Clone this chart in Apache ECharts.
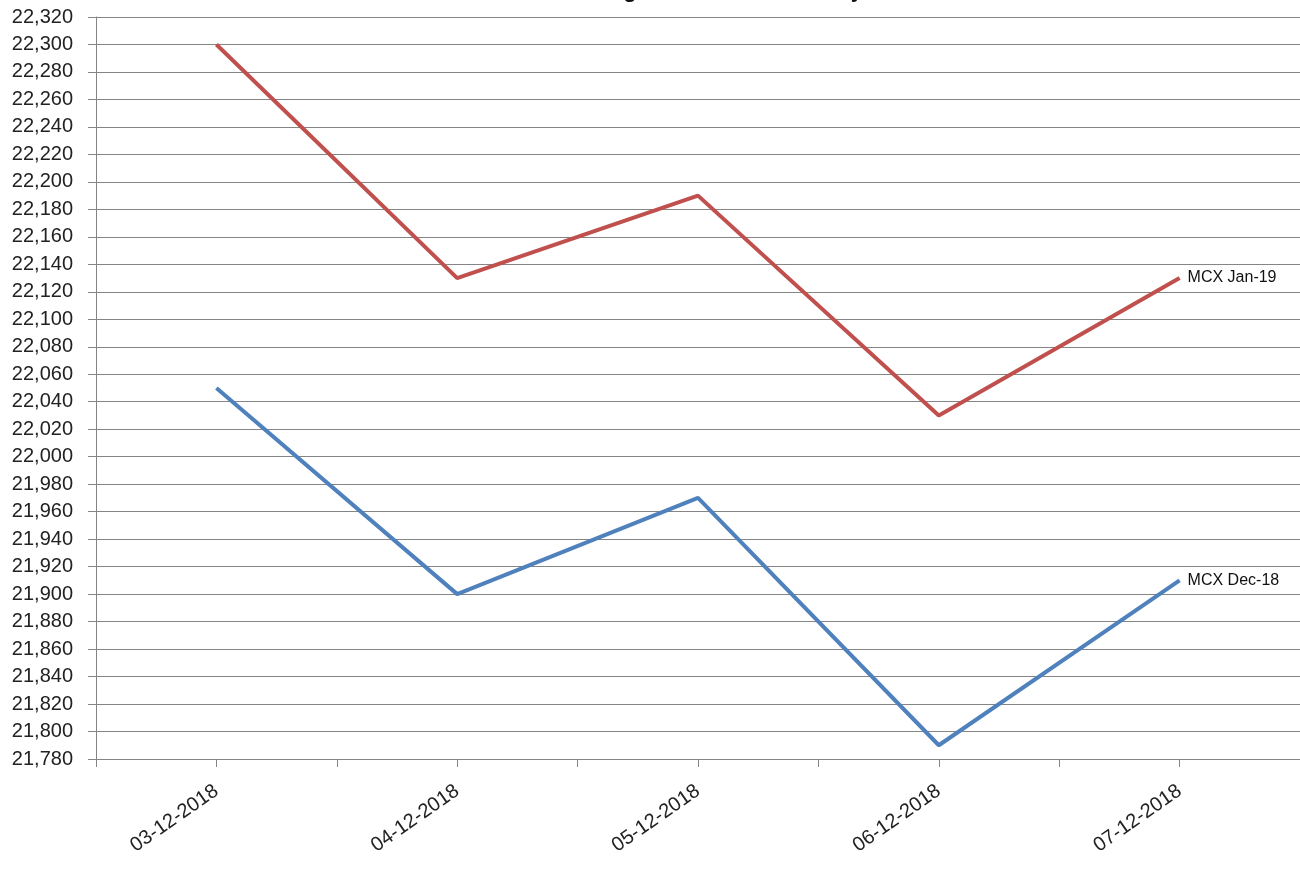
<!DOCTYPE html>
<html>
<head>
<meta charset="utf-8">
<script src="https://cdn.jsdelivr.net/npm/echarts@6/dist/echarts.min.js"></script>
<style>
html,body{margin:0;padding:0;background:#fff;}
#c{width:1300px;height:869px;}
</style>
</head>
<body>
<div id="c"></div>
<script>
const categories = ['03-12-2018', '04-12-2018', '05-12-2018', '06-12-2018', '07-12-2018'];
const janValues = [22300, 22130, 22190, 22030, 22130];
const decValues = [22050, 21900, 21970, 21790, 21910];
const seriesNames = ['MCX Jan-19', 'MCX Dec-18'];
const titleText = 'MCX Cotton Long Jan Short Dec - Daily';

const font = 'Liberation Sans';
const chart = echarts.init(document.getElementById('c'));
const gridColor = '#858585';

chart.setOption({
  animation: false,
  title: {
    text: titleText,
    left: 652,
    textAlign: 'center',
    top: -25,
    textStyle: { fontFamily: font, fontSize: 22, fontWeight: 'bold', color: '#111' }
  },
  grid: { left: 96, right: -1, top: 17, bottom: 110, containLabel: false },
  xAxis: [
    {
      type: 'category',
      data: categories,
      boundaryGap: true,
      axisLine: { show: true, lineStyle: { color: gridColor, width: 1 } },
      axisTick: { show: true, interval: 0, length: 8, lineStyle: { color: gridColor } },
      axisLabel: {
        interval: 0,
        rotate: 35,
        margin: 30,
        fontFamily: font,
        fontSize: 20,
        color: '#222',
        showMaxLabel: true, showMinLabel: true
      },
      splitLine: { show: false }
    },
    {
      type: 'category',
      data: categories,
      position: 'bottom',
      boundaryGap: true,
      axisLine: { show: false },
      axisTick: { show: true, alignWithLabel: true, interval: 0, length: 8, lineStyle: { color: gridColor } },
      axisLabel: { show: false },
      splitLine: { show: false }
    }
  ],
  yAxis: {
    type: 'value',
    min: 21780,
    max: 22320,
    interval: 20,
    axisLine: { show: true, lineStyle: { color: gridColor, width: 1 } },
    axisTick: { show: true, length: 8, lineStyle: { color: gridColor } },
    axisLabel: {
      fontFamily: font,
      fontSize: 20,
      color: '#222',
      margin: 23,
      formatter: v => v.toLocaleString('en-US')
    },
    splitLine: { show: true, lineStyle: { color: gridColor, width: 1 } }
  },
  series: [
    {
      name: seriesNames[0],
      type: 'line',
      data: janValues,
      showSymbol: false,
      symbol: 'none',
      lineStyle: { color: '#C0504D', width: 4 },
      itemStyle: { color: '#C0504D' },
      endLabel: {
        show: true,
        formatter: '{a}',
        distance: 8,
        fontFamily: font,
        fontSize: 16,
        color: '#111'
      }
    },
    {
      name: seriesNames[1],
      type: 'line',
      data: decValues,
      showSymbol: false,
      symbol: 'none',
      lineStyle: { color: '#4F81BD', width: 4 },
      itemStyle: { color: '#4F81BD' },
      endLabel: {
        show: true,
        formatter: '{a}',
        distance: 8,
        fontFamily: font,
        fontSize: 16,
        color: '#111'
      }
    }
  ]
});
</script>
</body>
</html>
